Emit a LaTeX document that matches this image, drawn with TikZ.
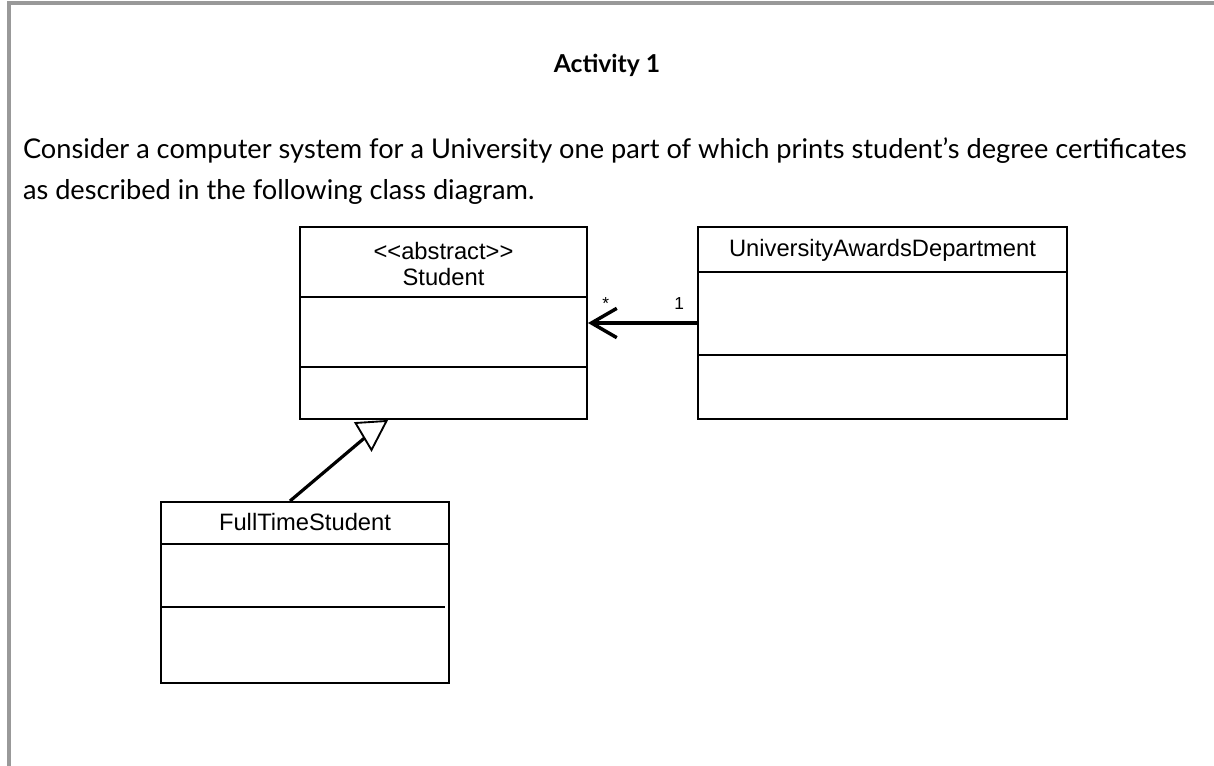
\documentclass[tikz,border=0pt]{standalone}
\usepackage{fontspec}
\setmainfont{Lato}
\newfontfamily\umlfont[Ligatures=TeXOff]{Liberation Sans}
\usetikzlibrary{arrows.meta, positioning, calc}
\definecolor{cframe}{HTML}{999999}
\tikzset{
  every picture/.style={x=0.75pt, y=-0.75pt, line width=1.5pt},
  classbox/.style={draw, rectangle, anchor=north west, inner sep=0pt},
  divider/.style={line width=1.6pt},
  umlname/.style={font=\umlfont\fontsize{17.8}{20}\selectfont, align=center, inner sep=1pt},
  mult/.style={font=\umlfont\fontsize{13}{15}\selectfont, inner sep=1pt},
  assoc/.style={-{Straight Barb[length=19pt, width=22pt]}, line width=2.6pt},
  title/.style={font=\bfseries\fontsize{18.5}{22}\selectfont},
  bodytext/.style={font=\fontsize{20.4}{30.75}\selectfont, align=left, anchor=west, inner sep=0pt},
}
\begin{document}
\begin{tikzpicture}
  \useasboundingbox (0,0) rectangle (1214,766);
  % frame round the activity
  \draw[cframe, line width=2.3pt] (9,766) -- (9,3) -- (1214,3);

  \node[title] (head) at (607,65) {Activity 1};
  \node[bodytext] (intro) at (22,171) {Consider a computer system for a University one part of which prints student’s degree certificates\\as described in the following class diagram.};

  % classes
  \node[classbox, minimum width=215.25pt, minimum height=144pt] (student) at (299,226) {};
  \node[classbox, minimum width=276.75pt, minimum height=144pt] (uad) at (697,226) {};
  \node[classbox, minimum width=216pt, minimum height=135.75pt] (fts) at (160,501) {};

  \draw[divider] ($(student.north west)+(0,71)$) -- ($(student.north east)+(0,71)$);
  \draw[line width=1.2pt] ($(student.north west)+(0,141)$) -- ($(student.north east)+(-2,141)$);
  \draw[divider, line width=2.2pt] ($(uad.north west)+(0,46)$) -- ($(uad.north east)+(0,46)$);
  \draw[divider, line width=2.2pt] ($(uad.north west)+(0,129)$) -- ($(uad.north east)+(0,129)$);
  \draw[divider] ($(fts.north west)+(0,43)$) -- ($(fts.north east)+(0,43)$);
  \draw[line width=1.2pt] ($(fts.north west)+(0,106)$) -- ($(fts.north east)+(-5,106)$);

  \node[umlname] (studentname) at ($(student.north)+(0,38)$) {<<abstract>>\\Student};
  \node[umlname] (uadname) at ($(uad.north)+(0,24)$) {UniversityAwardsDepartment};
  \node[umlname] (ftsname) at ($(fts.north)+(0,21)$) {FullTimeStudent};

  % association
  \draw[assoc] (uad.west) -- (student.east);
  \node[mult, above right=8pt and 9pt of student.east] (many) {*};
  \node[mult, above left=8pt and 8pt of uad.west] (one) {1};

  % generalisation
  \coordinate (tipl) at ($(student.south)+(-88,3)$);
  \coordinate (tipr) at ($(student.south)+(-57,1)$);
  \coordinate (tipb) at ($(student.south)+(-72,30)$);
  \coordinate (gend) at ($(student.south)+(-79,18)$);
  \draw[line width=2.4pt] ($(fts.north)+(-15,0)$) -- (gend);
  \draw[line width=1.4pt, fill=white, line join=miter] (tipl) -- (tipr) -- (tipb) -- cycle;
\end{tikzpicture}
\end{document}
